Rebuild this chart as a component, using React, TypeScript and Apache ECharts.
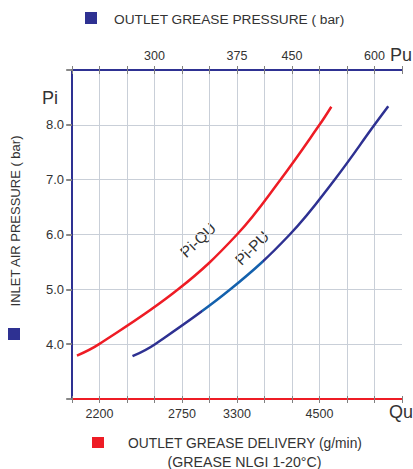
import React, { useEffect, useRef } from "react";
import * as echarts from "echarts";

// x positions are grid-step indices (0..12); tick labels below/above
const bottomTickLabels = ["", "2200", "", "", "2750", "", "3300", "", "", "4500", "", "", ""];
const topTickLabels = ["", "", "", "300", "", "", "375", "", "450", "", "", "600", ""];
const yLabelMin = 4;
const yLabelMax = 8;

// Pi-Qu curve (red): x index, inlet air pressure
const piQuX = [0.18, 0.985, 3.86, 6.0, 7.58, 9.0, 9.43];
const piQuY = [3.79, 4.0, 5.0, 6.0, 7.0, 8.0, 8.33];

// Pi-Pu curve (blue)
const piPuX = [2.2, 3.02, 5.76, 7.92, 9.55, 11.0, 11.5];
const piPuY = [3.78, 4.0, 5.0, 6.0, 7.0, 8.0, 8.34];

const NAVY = "#2e3192";
const RED = "#ee1c25";
const LIGHTBLUE = "#1461ad";
const GRID = "#c9cfd8";
const TICK = "#808080";
const TXT = "#333333";
const FONT = "Liberation Sans";

export default function App() {
  const ref = useRef<HTMLDivElement>(null);
  useEffect(() => {
    if (!ref.current) return;
    const chart = echarts.init(ref.current, null, { renderer: "svg" });
    const splitColors = Array.from({ length: 13 }, (_, i) => (i === 12 ? "rgba(0,0,0,0)" : GRID));
    const baseX = {
      type: "value",
      min: 0,
      max: 12,
      interval: 1,
    };
    const option: any = {
      animation: false,
      grid: { left: 72, right: 11, top: 70, bottom: 70, containLabel: false },
      xAxis: [
        {
          ...baseX,
          position: "bottom",
          axisLine: { show: true, onZero: false, lineStyle: { color: RED, width: 2 } },
          axisTick: { show: true, length: 4, lineStyle: { color: TICK } },
          axisLabel: {
            show: true,
            margin: 8,
            color: TXT,
            fontSize: 12.5,
            fontFamily: FONT,
            formatter: (v: number) => bottomTickLabels[Math.round(v)] ?? "",
          },
          splitLine: { show: true, lineStyle: { color: splitColors, width: 1 } },
        },
        {
          ...baseX,
          position: "top",
          axisLine: { show: true, onZero: false, lineStyle: { color: NAVY, width: 2 } },
          axisTick: { show: true, length: 4, lineStyle: { color: TICK } },
          axisLabel: {
            show: true,
            margin: 8,
            color: TXT,
            fontSize: 12.5,
            fontFamily: FONT,
            formatter: (v: number) => topTickLabels[Math.round(v)] ?? "",
          },
          splitLine: { show: false },
        },
        {
          ...baseX,
          position: "bottom",
          axisLine: { show: false },
          axisTick: { show: true, inside: true, length: 3, lineStyle: { color: TICK } },
          axisLabel: { show: false },
          splitLine: { show: false },
        },
        {
          ...baseX,
          position: "top",
          axisLine: { show: false },
          axisTick: { show: true, inside: true, length: 4, lineStyle: { color: TICK } },
          axisLabel: { show: false },
          splitLine: { show: false },
        },
      ],
      yAxis: [
        {
          type: "value",
          min: 3,
          max: 9,
          interval: 1,
          axisLine: { show: true, onZero: false, lineStyle: { color: NAVY, width: 2 } },
          axisTick: { show: true, length: 5, lineStyle: { color: TICK, width: 1.5 } },
          axisLabel: {
            show: true,
            margin: 8,
            color: TXT,
            fontSize: 13,
            fontFamily: FONT,
            formatter: (v: number) => (v >= yLabelMin && v <= yLabelMax ? v.toFixed(1) : ""),
          },
          splitLine: { show: true, lineStyle: { color: GRID, width: 1 } },
        },
        {
          type: "value",
          min: 3,
          max: 9,
          interval: 1,
          axisLine: { show: false },
          axisTick: { show: true, inside: true, length: 6, lineStyle: { color: TICK, width: 1.5 } },
          axisLabel: { show: false },
          splitLine: { show: false },
        },
      ],
      visualMap: [
        {
          type: "piecewise",
          show: false,
          seriesIndex: 1,
          dimension: 0,
          pieces: [
            { lt: 4.72, color: NAVY },
            { gte: 4.72, lt: 6.96, color: LIGHTBLUE },
            { gte: 6.96, color: NAVY },
          ],
        },
      ],
      series: [
        {
          name: "Pi-QU",
          type: "line",
          xAxisIndex: 0,
          yAxisIndex: 0,
          data: piQuX.map((x, i) => [x, piQuY[i]]),
          smooth: 0.4,
          showSymbol: false,
          symbol: "none",
          lineStyle: { color: RED, width: 2.5 },
        },
        {
          name: "Pi-PU",
          type: "line",
          xAxisIndex: 0,
          yAxisIndex: 0,
          data: piPuX.map((x, i) => [x, piPuY[i]]),
          smooth: 0.4,
          showSymbol: false,
          symbol: "none",
          lineStyle: { width: 2.5 },
        },
      ],
      graphic: [
        { type: "rect", shape: { x: 85, y: 12, width: 12, height: 12 }, style: { fill: NAVY } },
        {
          type: "text",
          x: 114,
          y: 19,
          style: { text: "OUTLET GREASE PRESSURE ( bar)", fill: TXT, fontSize: 13.7, fontFamily: FONT, verticalAlign: "middle", align: "left" },
        },
        {
          type: "text",
          x: 390,
          y: 55,
          style: { text: "Pu", fill: TXT, fontSize: 18, fontFamily: FONT, verticalAlign: "middle", align: "left" },
        },
        {
          type: "text",
          x: 50,
          y: 98,
          style: { text: "Pi", fill: TXT, fontSize: 18, fontFamily: FONT, verticalAlign: "middle", align: "center" },
        },
        {
          type: "text",
          x: 389,
          y: 412,
          style: { text: "Qu", fill: TXT, fontSize: 18, fontFamily: FONT, verticalAlign: "middle", align: "left" },
        },
        { type: "rect", shape: { x: 92, y: 437, width: 12, height: 11 }, style: { fill: RED } },
        {
          type: "text",
          x: 245,
          y: 443,
          style: { text: "OUTLET GREASE DELIVERY (g/min)", fill: TXT, fontSize: 13.8, fontFamily: FONT, verticalAlign: "middle", align: "center" },
        },
        {
          type: "text",
          x: 244.5,
          y: 462,
          style: { text: "(GREASE NLGI 1-20°C)", fill: TXT, fontSize: 14.2, fontFamily: FONT, verticalAlign: "middle", align: "center" },
        },
        {
          type: "text",
          x: 15,
          y: 221,
          rotation: Math.PI / 2,
          style: { text: "INLET AIR PRESSURE ( bar)", fill: TXT, fontSize: 13, fontFamily: FONT, verticalAlign: "middle", align: "center" },
        },
        { type: "rect", shape: { x: 8, y: 328, width: 12, height: 12 }, style: { fill: NAVY } },
        {
          type: "text",
          x: 198,
          y: 240,
          rotation: (43 * Math.PI) / 180,
          style: { text: "Pi-QU", fill: TXT, fontSize: 15.5, fontFamily: FONT, verticalAlign: "middle", align: "center" },
        },
        {
          type: "text",
          x: 252,
          y: 248,
          rotation: (45 * Math.PI) / 180,
          style: { text: "Pi-PU", fill: TXT, fontSize: 15.5, fontFamily: FONT, verticalAlign: "middle", align: "center" },
        },
      ],
    };
    chart.setOption(option);
    return () => chart.dispose();
  }, []);
  return <div ref={ref} style={{ width: 413, height: 469, position: "absolute", left: 0, top: 0 }} />;
}
